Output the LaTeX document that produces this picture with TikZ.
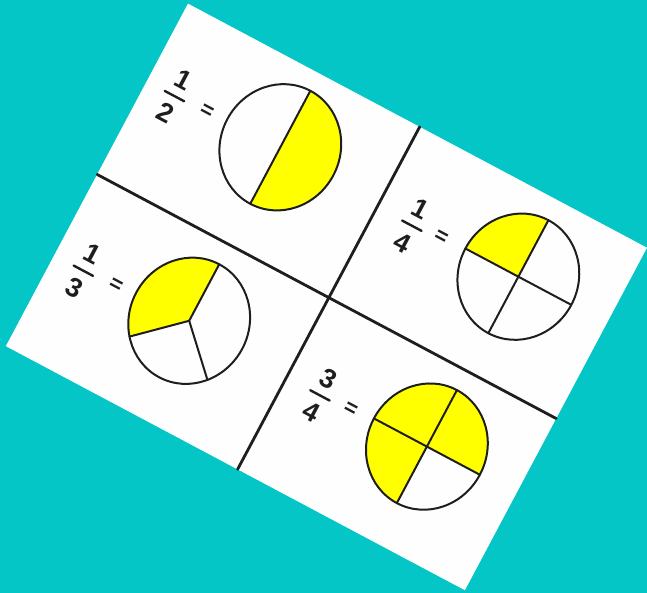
\documentclass[tikz,border=0pt]{standalone}
\usepackage{fontspec}
\setmainfont{Liberation Sans}
\usetikzlibrary{calc}
\definecolor{fracTeal}{HTML}{04C6C6}
\definecolor{fracYellow}{HTML}{FFFF00}
\definecolor{fracInk}{HTML}{1E1E1E}
\definecolor{fracPaper}{HTML}{FEFEFE}

\begin{document}
\begin{tikzpicture}[x=1pt,y=1pt,line cap=round,line join=round]
\path[fill=fracTeal] (0,0) rectangle (647,-593);
\begin{scope}[shift={(326.5,-297)},rotate=-28,transform shape]
\tikzset{divider/.style={draw=fracInk,line width=2.8pt},rim/.style={draw=fracInk,line width=2pt},part/.style={fill=fracYellow},fracbar/.style={draw=fracInk,line width=2.4pt},digit/.style={font=\fontsize{27}{27}\selectfont\bfseries,text=fracInk,inner sep=0pt},equals/.style={font=\fontsize{22}{22}\selectfont\bfseries,text=fracInk,inner sep=0pt}}
\path[fill=fracPaper] (-260,-194) rectangle (260,194);
\draw[divider] (2.5,-194) -- (2.5,194);
\draw[divider] (-260,0.5) -- (260,0.5);
% one half
\node[digit] (numHalf) at (-228.5,125) {1}; \node[digit] (denHalf) at (-228.5,87) {2};
\draw[fracbar] (-239.5,106) -- (-217.5,106); \node[equals] (eqHalf) at (-193,108) {=};
\coordinate (half) at (-111,110.5);
\fill[part] (half) -- ++(90:60 and 64) arc[start angle=90,end angle=-90,x radius=60,y radius=64] -- cycle;
\draw[rim] (half) ellipse[x radius=60,y radius=64];
\draw[rim] ($(half)+(0,64)$) -- ($(half)+(0,-64)$);
% one third
\node[digit] (numThird) at (-227,-72) {1}; \node[digit] (denThird) at (-227,-110) {3};
\draw[fracbar] (-238,-91) -- (-216,-91); \node[equals] (eqThird) at (-191.5,-89) {=};
\coordinate (third) at (-110,-85.5);
\fill[part] (third) -- ++(90:60 and 64) arc[start angle=90,end angle=221,x radius=60,y radius=64] -- cycle;
\draw[rim] (third) ellipse[x radius=60,y radius=64];
\draw[rim] ($(third)+(90:60 and 64)$) -- (third) -- ($(third)+(221:60 and 64)$);
\draw[rim] (third) -- ($(third)+(317:60 and 64)$);
% one quarter
\node[digit] (numQuarter) at (42,122) {1}; \node[digit] (denQuarter) at (42,84) {4};
\draw[fracbar] (31,103) -- (53,103); \node[equals] (eqQuarter) at (73.5,106) {=};
\coordinate (quarter) at (160,108);
\fill[part] (quarter) -- ++(90:60 and 64) arc[start angle=90,end angle=180,x radius=60,y radius=64] -- cycle;
\draw[rim] (quarter) ellipse[x radius=60,y radius=64];
\draw[rim] ($(quarter)+(0,64)$) -- ($(quarter)+(0,-64)$);
\draw[rim] ($(quarter)+(-60,0)$) -- ($(quarter)+(60,0)$);
% three quarters
\node[digit] (numThreeQ) at (40.5,-71) {3}; \node[digit] (denThreeQ) at (40.5,-109) {4};
\draw[fracbar] (29.5,-90) -- (51.5,-90); \node[equals] (eqThreeQ) at (74,-88) {=};
\coordinate (threeq) at (159,-85);
\fill[part] (threeq) -- ++(0:60 and 64) arc[start angle=0,end angle=270,x radius=60,y radius=64] -- cycle;
\draw[rim] (threeq) ellipse[x radius=60,y radius=64];
\draw[rim] ($(threeq)+(0,64)$) -- ($(threeq)+(0,-64)$);
\draw[rim] ($(threeq)+(-60,0)$) -- ($(threeq)+(60,0)$);
\end{scope}
\useasboundingbox (0,0) rectangle (647,-593);
\end{tikzpicture}
\end{document}
